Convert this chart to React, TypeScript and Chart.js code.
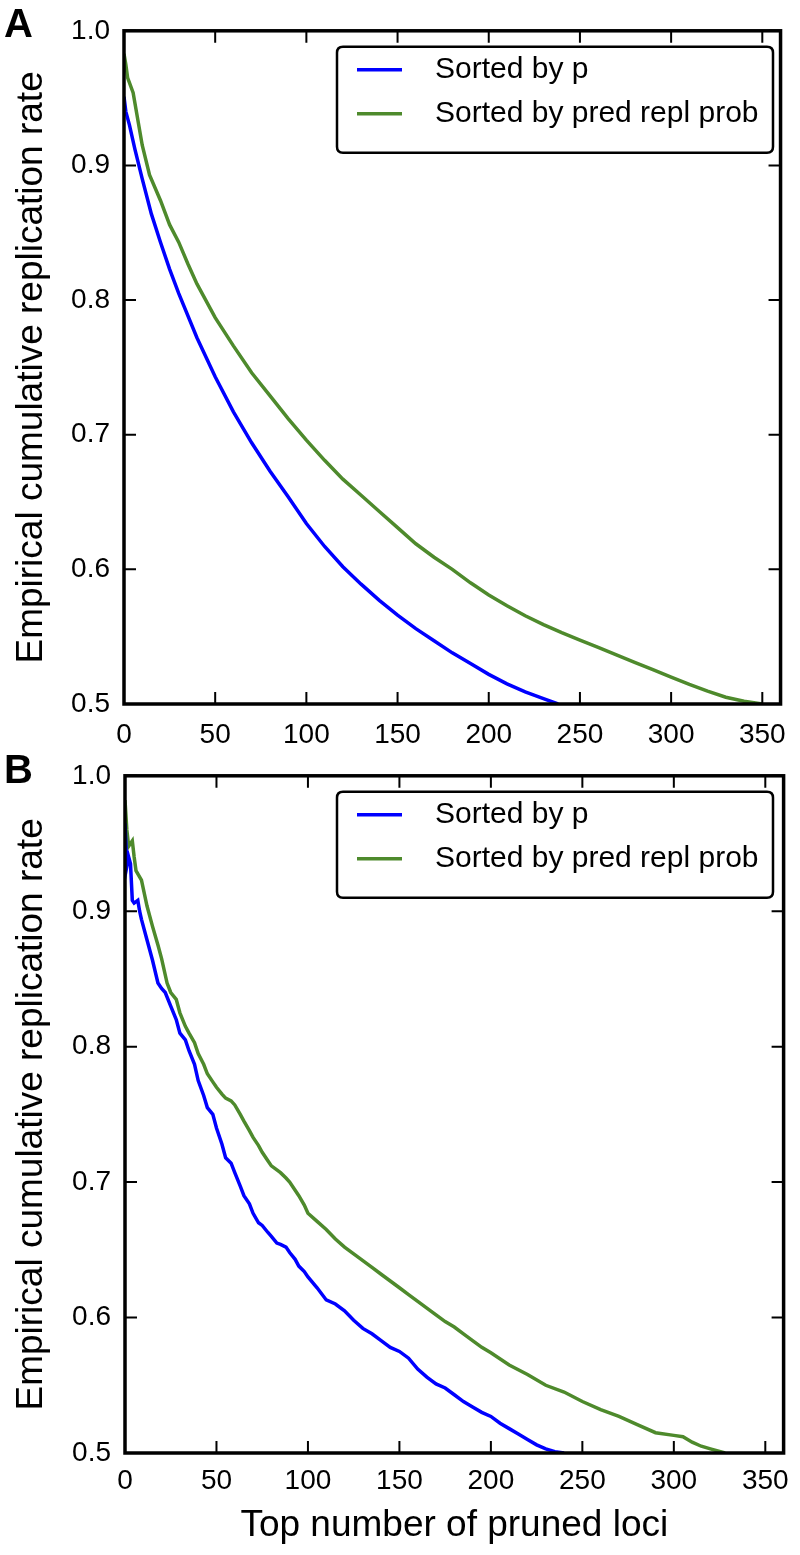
import React, { useEffect, useRef } from "react";
import { Chart, registerables } from "chart.js";

Chart.register(...registerables);

// ---------- data ----------
const X_TICKS = [0, 50, 100, 150, 200, 250, 300, 350];
const Y_TICKS = [0.5, 0.6, 0.7, 0.8, 0.9, 1.0];
const X_MAX = 360;
const SERIES_LABELS = ["Sorted by p", "Sorted by pred repl prob"];
const SERIES_COLORS = ["#0000ff", "#4e8a2c"];
const PANEL_LETTERS = ["A", "B"];
const Y_TITLE = "Empirical cumulative replication rate";
const X_TITLE = "Top number of pruned loci";

// Panel A
const A_BLUE_X = [0, 1, 3, 6, 10, 15, 20, 25, 30, 40, 50, 60, 70, 80, 90, 100, 110, 120, 130, 140, 150, 160, 170, 180, 190, 200, 210, 220, 230, 238];
const A_BLUE_Y = [0.951, 0.94, 0.93, 0.912, 0.89, 0.864, 0.843, 0.823, 0.805, 0.772, 0.743, 0.717, 0.694, 0.673, 0.654, 0.634, 0.617, 0.602, 0.589, 0.577, 0.566, 0.556, 0.547, 0.538, 0.53, 0.522, 0.515, 0.509, 0.504, 0.5];
const A_GREEN_X = [0, 1, 2, 5, 10, 14, 20, 25, 30, 35, 40, 50, 60, 70, 80, 90, 100, 110, 120, 130, 140, 150, 160, 170, 180, 190, 200, 210, 220, 230, 240, 250, 260, 270, 280, 290, 300, 310, 320, 330, 340, 350];
const A_GREEN_Y = [0.983, 0.975, 0.965, 0.954, 0.915, 0.893, 0.874, 0.856, 0.843, 0.827, 0.812, 0.787, 0.766, 0.746, 0.729, 0.712, 0.696, 0.681, 0.667, 0.655, 0.643, 0.631, 0.619, 0.609, 0.6, 0.59, 0.581, 0.573, 0.5655, 0.559, 0.553, 0.5475, 0.542, 0.5365, 0.531, 0.5255, 0.52, 0.5145, 0.5095, 0.505, 0.502, 0.5];

// Panel B
const B_BLUE_X = [0, 1, 2, 3, 4, 5, 7, 8, 9, 12, 15, 18, 20, 22, 25, 28, 30, 33, 35, 38, 40, 43, 45, 48, 50, 53, 55, 58, 60, 63, 65, 68, 70, 73, 75, 78, 80, 83, 85, 88, 90, 93, 95, 98, 100, 105, 110, 115, 120, 125, 130, 135, 140, 145, 150, 155, 160, 165, 170, 175, 180, 185, 190, 195, 200, 205, 210, 215, 220, 225, 230, 235, 240];
const B_BLUE_Y = [0.965, 0.933, 0.94, 0.935, 0.908, 0.906, 0.908, 0.9, 0.894, 0.879, 0.864, 0.847, 0.843, 0.84, 0.83, 0.82, 0.81, 0.805, 0.797, 0.787, 0.775, 0.764, 0.755, 0.75, 0.74, 0.728, 0.718, 0.714, 0.707, 0.697, 0.69, 0.684, 0.677, 0.67, 0.668, 0.663, 0.66, 0.655, 0.654, 0.652, 0.648, 0.643, 0.638, 0.634, 0.63, 0.622, 0.613, 0.61, 0.605, 0.598, 0.592, 0.588, 0.583, 0.578, 0.575, 0.57, 0.562, 0.556, 0.551, 0.548, 0.543, 0.538, 0.534, 0.53, 0.527, 0.522, 0.518, 0.514, 0.51, 0.506, 0.503, 0.501, 0.5];
const B_GREEN_X = [0, 1, 2, 3, 4, 5, 6, 9, 12, 15, 18, 20, 23, 25, 28, 30, 33, 35, 38, 40, 43, 45, 48, 50, 53, 55, 58, 60, 63, 65, 68, 70, 73, 75, 78, 80, 83, 85, 88, 90, 93, 95, 98, 100, 105, 110, 115, 120, 125, 130, 135, 140, 145, 150, 155, 160, 165, 170, 175, 180, 185, 190, 195, 200, 210, 220, 230, 240, 250, 260, 270, 280, 290, 300, 305, 310, 315, 320, 328];
const B_GREEN_Y = [0.982, 0.96, 0.948, 0.95, 0.952, 0.94, 0.93, 0.923, 0.904, 0.889, 0.875, 0.865, 0.847, 0.84, 0.835, 0.825, 0.815, 0.81, 0.803, 0.795, 0.787, 0.78, 0.774, 0.77, 0.765, 0.762, 0.76, 0.757, 0.75, 0.745, 0.738, 0.733, 0.727, 0.722, 0.716, 0.712, 0.709, 0.707, 0.703, 0.7, 0.694, 0.69, 0.683, 0.677, 0.671, 0.665, 0.658, 0.652, 0.647, 0.642, 0.637, 0.632, 0.627, 0.622, 0.617, 0.612, 0.607, 0.602, 0.597, 0.593, 0.588, 0.583, 0.578, 0.574, 0.565, 0.558, 0.55, 0.545, 0.538, 0.532, 0.527, 0.521, 0.515, 0.513, 0.512, 0.508, 0.505, 0.503, 0.5];

// ---------- drawing helpers ----------
const FONT = "'Liberation Sans', Arial, Helvetica, sans-serif";

function zip(xs: number[], ys: number[]) {
  return xs.map((x, i) => ({ x, y: ys[i] }));
}

const framePlugin = {
  id: "frame",
  afterDraw(chart: any, _args: any, opts: any) {
    const ctx = chart.ctx;
    const { left, right, top, bottom } = chart.chartArea;
    const xs = chart.scales.x;
    const ys = chart.scales.y;
    const tl = 12;
    ctx.save();
    ctx.strokeStyle = "#000";
    ctx.lineWidth = 2;
    ctx.beginPath();
    X_TICKS.forEach((v) => {
      const px = xs.getPixelForValue(v);
      ctx.moveTo(px, bottom);
      ctx.lineTo(px, bottom - tl);
      ctx.moveTo(px, top);
      ctx.lineTo(px, top + tl);
    });
    Y_TICKS.forEach((v) => {
      const py = ys.getPixelForValue(v);
      ctx.moveTo(left, py);
      ctx.lineTo(left + tl, py);
      ctx.moveTo(right, py);
      ctx.lineTo(right - tl, py);
    });
    ctx.stroke();
    ctx.lineWidth = 3.5;
    ctx.strokeRect(left, top, right - left, bottom - top);

    // legend
    const bx = 337, bw = 436, bh = 106;
    const by = top + 16;
    const r = 6;
    ctx.fillStyle = "#fff";
    ctx.lineWidth = 2.5;
    ctx.beginPath();
    ctx.moveTo(bx + r, by);
    ctx.lineTo(bx + bw - r, by);
    ctx.quadraticCurveTo(bx + bw, by, bx + bw, by + r);
    ctx.lineTo(bx + bw, by + bh - r);
    ctx.quadraticCurveTo(bx + bw, by + bh, bx + bw - r, by + bh);
    ctx.lineTo(bx + r, by + bh);
    ctx.quadraticCurveTo(bx, by + bh, bx, by + bh - r);
    ctx.lineTo(bx, by + r);
    ctx.quadraticCurveTo(bx, by, bx + r, by);
    ctx.closePath();
    ctx.fill();
    ctx.stroke();
    chart.data.datasets.forEach((ds: any, i: number) => {
      const ly = by + 23 + i * 44;
      ctx.strokeStyle = ds.borderColor;
      ctx.lineWidth = 3.5;
      ctx.beginPath();
      ctx.moveTo(bx + 20, ly);
      ctx.lineTo(bx + 65, ly);
      ctx.stroke();
      ctx.fillStyle = "#000";
      ctx.font = `30px ${FONT}`;
      ctx.textBaseline = "middle";
      ctx.textAlign = "left";
      ctx.fillText(ds.label, bx + 98, ly);
    });

    // panel letter
    ctx.fillStyle = "#000";
    ctx.font = `bold 40px ${FONT}`;
    ctx.textBaseline = "alphabetic";
    ctx.textAlign = "left";
    ctx.fillText(opts.letter, 4, opts.letterY);
    ctx.restore();
  },
};

function makeConfig(panel: number, canvasH: number) {
  const isB = panel === 1;
  const blue = isB ? zip(B_BLUE_X, B_BLUE_Y) : zip(A_BLUE_X, A_BLUE_Y);
  const green = isB ? zip(B_GREEN_X, B_GREEN_Y) : zip(A_GREEN_X, A_GREEN_Y);
  const plotTop = isB ? 27 : 24;
  const plotBottom = isB ? 708 : 704;
  return {
    type: "line",
    data: {
      datasets: [
        { label: SERIES_LABELS[0], data: blue, borderColor: SERIES_COLORS[0], borderWidth: 3.5, pointRadius: 0, tension: 0, fill: false },
        { label: SERIES_LABELS[1], data: green, borderColor: SERIES_COLORS[1], borderWidth: 3.5, pointRadius: 0, tension: 0, fill: false },
      ],
    },
    options: {
      responsive: false,
      animation: false,
      devicePixelRatio: 1,
      layout: { padding: { left: 0, top: plotTop, right: 12, bottom: 0 } },
      plugins: {
        legend: { display: false },
        tooltip: { enabled: false },
        frame: { letter: PANEL_LETTERS[panel], letterY: isB ? 38 : 37 },
      },
      scales: {
        x: {
          type: "linear",
          min: 0,
          max: X_MAX,
          afterBuildTicks: (s: any) => { s.ticks = X_TICKS.map((v) => ({ value: v })); },
          afterFit: (s: any) => { s.height = canvasH - plotBottom; },
          grid: { display: false, drawTicks: false },
          border: { display: false },
          ticks: { color: "#000", padding: isB ? 11 : 14, font: { size: 28, family: FONT }, maxRotation: 0, autoSkip: false },
          title: { display: isB, text: X_TITLE, color: "#000", font: { size: 37, family: FONT }, padding: { top: 0, bottom: 7 } },
        },
        y: {
          type: "linear",
          min: 0.5,
          max: 1.0,
          afterBuildTicks: (s: any) => { s.ticks = Y_TICKS.map((v) => ({ value: v })); },
          afterFit: (s: any) => { s.width = isB ? 125 : 124; },
          grid: { display: false, drawTicks: false },
          border: { display: false },
          ticks: { color: "#000", padding: 14, font: { size: 28, family: FONT }, callback: (v: any) => Number(v).toFixed(1), autoSkip: false },
          title: { display: true, text: Y_TITLE, color: "#000", font: { size: 37, family: FONT }, padding: { top: 10, bottom: 0 } },
        },
      },
    },
    plugins: [framePlugin],
  };
}

function Panel({ panel, top, height }: { panel: number; top: number; height: number }) {
  const ref = useRef<HTMLCanvasElement | null>(null);
  useEffect(() => {
    if (!ref.current) return;
    const chart = new Chart(ref.current, makeConfig(panel, height) as any);
    return () => chart.destroy();
  }, [panel, height]);
  return (
    <canvas
      ref={ref}
      width={800}
      height={height}
      style={{ position: "absolute", left: 0, top, width: 800, height }}
    />
  );
}

export default function App() {
  return (
    <div style={{ position: "absolute", left: 0, top: 0, width: 800, height: 1555, background: "#fff" }}>
      <Panel panel={0} top={0} height={760} />
      <Panel panel={1} top={745} height={810} />
    </div>
  );
}
